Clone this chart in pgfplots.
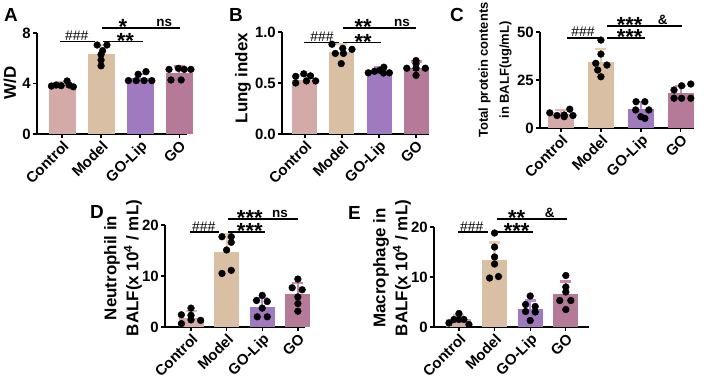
\documentclass[border=0pt]{standalone}
\usepackage{pgfplots}
\pgfplotsset{compat=1.18}
\usepackage{fontspec}
\setmainfont{Liberation Sans}
\definecolor{cC}{RGB}{212,170,168}
\definecolor{cM}{RGB}{217,192,165}
\definecolor{cL}{RGB}{160,122,190}
\definecolor{cG}{RGB}{180,122,152}
\definecolor{eC}{RGB}{226,178,178}
\definecolor{eM}{RGB}{232,204,178}
\definecolor{eL}{RGB}{184,140,214}
\definecolor{eG}{RGB}{204,136,170}
\pgfplotsset{
  panel/.style={
    scale only axis,
    axis x line*=bottom, axis y line*=left,
    axis line style={line width=1.3bp, black},
    tick style={line width=1.3bp, black},
    major tick length=4bp,
    tick align=outside,
    xtick={0,1,2,3},
    xticklabels={Control,Model,GO-Lip,GO},
    xticklabel style={rotate=45, anchor=north east, inner sep=1bp, font=\bfseries\fontsize{15}{15}\selectfont},
    yticklabel style={font=\bfseries\fontsize{15}{15}\selectfont, inner sep=2bp},
    /pgf/number format/assume math mode=true,
    ymin=0, clip=false, enlargelimits=false,
  }
}
\newcommand{\bars}[5]{%
  \addplot[ybar, bar shift=0pt, bar width=#1, fill=cC, draw=none, forget plot] coordinates {(0,#2)};
  \addplot[ybar, bar shift=0pt, bar width=#1, fill=cM, draw=none, forget plot] coordinates {(1,#3)};
  \addplot[ybar, bar shift=0pt, bar width=#1, fill=cL, draw=none, forget plot] coordinates {(2,#4)};
  \addplot[ybar, bar shift=0pt, bar width=#1, fill=cG, draw=none, forget plot] coordinates {(3,#5)};
}
\newcommand{\errb}[4]{%
  \addplot[draw=none, mark=none, forget plot, error bars/.cd, y dir=plus, y explicit,
    error bar style={draw=#1, line width=2.2bp},
    error mark options={draw=#1, line width=2.2bp, mark size=5.5bp, rotate=90}] coordinates {(#2,#3) +- (0,#4)};
}
\newcommand{\pts}[1]{\addplot[only marks, mark=*, mark size=3.4bp, black, forget plot] coordinates {#1};}
\newcommand{\brk}[3]{\draw[line width=1.3bp] (axis cs:#1,#3) -- (axis cs:#2,#3);}
\newcommand{\hashtxt}[2]{\node[anchor=base, inner sep=0, font=\fontsize{14}{14}\selectfont, yshift=1bp] at (axis cs:#1,#2) {\#\#\#};}
\newcommand{\asttxt}[3]{\node[anchor=base, inner sep=0, font=\bfseries\fontsize{22}{22}\selectfont, yshift=-6.8bp] at (axis cs:#1,#2) {#3};}
\newcommand{\nstxt}[3]{\node[anchor=base, inner sep=0, font=\bfseries\fontsize{13.5}{13.5}\selectfont, yshift=1.5bp] at (axis cs:#1,#2) {#3};}
\begin{document}
\begin{tikzpicture}
\path[use as bounding box] (0,0) rectangle (708bp,-382bp);
\clip (0,0) rectangle (708bp,-382bp);
% panel letters
\foreach \l/\x/\y in {A/4/21, B/229/21, C/450/21, D/90/218, E/348/219}
  \node[anchor=base west, inner sep=0, font=\bfseries\fontsize{19}{19}\selectfont] at (\x bp,-\y bp) {\l};
% y labels
\node[rotate=90, font=\bfseries\fontsize{17}{21}\selectfont] at (10bp,-83bp) {W/D};
\node[rotate=90, font=\bfseries\fontsize{17}{21}\selectfont] at (243bp,-78bp) {Lung index};
\node[rotate=90, align=center, font=\bfseries\fontsize{13}{21}\selectfont] at (495bp,-70bp) {Total protein contents\\in BALF(ug/mL)};
\node[rotate=90, align=center, font=\bfseries\fontsize{17}{22}\selectfont] at (123bp,-268bp) {Neutrophil in\\BALF(x 10\textsuperscript{4} / mL)};
\node[rotate=90, align=center, font=\bfseries\fontsize{17}{22}\selectfont] at (392bp,-268bp) {Macrophage in\\BALF(x 10\textsuperscript{4} / mL)};
% ---------- A ----------
\begin{axis}[panel, at={(37bp,-134bp)}, anchor=south west, width=150bp, height=101bp,
  xmin=-0.64, xmax=3.2, ymax=8, ytick={0,4,8}]
\bars{27bp}{3.9}{6.35}{4.4}{4.85}
\errb{eC}{0}{3.9}{0.2}
\errb{eM}{1}{6.35}{0.7}
\errb{eL}{2}{4.4}{0.35}
\errb{eG}{3}{4.85}{0.5}
\pts{(-0.27,3.8) (-0.15,3.88) (-0.02,3.83) (0.13,4.2) (0.18,3.88) (0.29,3.74)}
\pts{(0.9,7.05) (1.15,7.05) (1.04,6.6) (1,6.3) (1,5.86) (1,5.4)}
\pts{(1.95,4.73) (2.15,4.94) (1.7,4.23) (1.9,4.23) (2.1,4.23) (2.3,4.23)}
\pts{(2.74,5.12) (2.98,5.2) (3.13,5.12) (3.3,5.12) (2.79,4.28) (3.05,4.28)}
\brk{-0.05}{0.85}{7.3}
\hashtxt{0.38}{7.3}
\brk{1.05}{2.08}{7.3}
\asttxt{1.62}{7.3}{**}
\brk{1.03}{3.03}{8.4}
\asttxt{1.56}{8.4}{*}
\nstxt{2.62}{8.4}{ns}
\end{axis}
% ---------- B ----------
\begin{axis}[panel, at={(282bp,-134bp)}, anchor=south west, width=147bp, height=102bp,
  xmin=-0.62, xmax=3.35, ymax=1, ytick={0,0.5,1}, yticklabels={0.0,0.5,1.0}]
\bars{25bp}{0.53}{0.8}{0.62}{0.645}
\errb{eC}{0}{0.53}{0.045}
\errb{eM}{1}{0.8}{0.08}
\errb{eL}{2}{0.62}{0.04}
\errb{eG}{3}{0.645}{0.065}
\pts{(-0.25,0.565) (-0.03,0.59) (0.15,0.57) (-0.25,0.5) (0.04,0.52) (0.29,0.52)}
\pts{(0.73,0.88) (1.02,0.84) (1.27,0.83) (0.82,0.79) (1.04,0.79) (0.98,0.69)}
\pts{(1.71,0.6) (1.88,0.615) (2.02,0.625) (2.13,0.655) (2.28,0.6) (2.12,0.598)}
\pts{(2.75,0.645) (3,0.72) (3,0.69) (3.25,0.645) (3,0.575) (3,0.645)}
\brk{-0.03}{0.92}{0.9}
\hashtxt{0.46}{0.9}
\brk{1.03}{2.05}{0.9}
\asttxt{1.57}{0.9}{**}
\brk{1.03}{3.0}{1.04}
\asttxt{1.57}{1.04}{**}
\nstxt{2.62}{1.04}{ns}
\end{axis}
% ---------- C ----------
\begin{axis}[panel, at={(540bp,-128bp)}, anchor=south west, width=154bp, height=96bp,
  xmin=-0.525, xmax=3.33, ymax=50, ytick={0,25,50}]
\bars{26bp}{7.2}{34.4}{9.8}{18.1}
\errb{eC}{0}{7.2}{2.0}
\errb{eM}{1}{34.4}{6.6}
\errb{eL}{2}{9.8}{3.9}
\errb{eG}{3}{18.1}{3.8}
\pts{(-0.28,7.9) (-0.1,6.5) (0.08,6.8) (0.22,9.8) (0.3,6.5) (0.08,5.9)}
\pts{(1,45.8) (1,38.5) (0.87,33.7) (1.15,32.8) (0.92,30.2) (1,26.7)}
\pts{(1.88,13.7) (2.1,13.7) (1.87,9.4) (2.2,9.4) (2,5.9) (2.1,5.0)}
\pts{(3.02,22.0) (3.25,22.9) (2.83,19.8) (2.83,15.5) (3.02,15.5) (3.25,15.5)}
\brk{0.15}{0.98}{46.9}
\hashtxt{0.55}{46.9}
\brk{1.15}{2.1}{46.9}
\asttxt{1.72}{46.9}{***}
\brk{1.15}{3.02}{53.1}
\asttxt{1.72}{53.1}{***}
\nstxt{2.55}{53.1}{\&}
\end{axis}
% ---------- D ----------
\begin{axis}[panel, at={(165bp,-327bp)}, anchor=south west, width=140bp, height=102bp,
  xmin=-0.73, xmax=3.2, ymax=20, ytick={0,10,20}]
\bars{25bp}{1.85}{14.75}{3.95}{6.4}
\errb{eC}{0}{1.85}{1.25}
\errb{eM}{1}{14.75}{3.45}
\errb{eL}{2}{3.95}{1.75}
\errb{eG}{3}{6.4}{2.3}
\pts{(-0.27,2.4) (0,3.7) (0,2.3) (-0.27,0.66) (0,1.4) (0.27,1.3)}
\pts{(0.87,17.7) (1.13,17.7) (1.13,16.6) (1,15.1) (0.87,10.5) (1.13,11.1)}
\pts{(2,6.2) (1.84,5.2) (2.14,5.0) (2,3.7) (1.86,2.0) (2.14,2.0)}
\pts{(3,9.4) (2.84,7.7) (3.12,7.3) (3,5.9) (3,4.6) (3,3.1)}
\brk{-0.03}{0.78}{18.6}
\hashtxt{0.36}{18.6}
\brk{1.04}{2.07}{18.6}
\asttxt{1.65}{18.6}{***}
\brk{1.04}{3.0}{21.2}
\asttxt{1.65}{21.2}{***}
\nstxt{2.5}{21.2}{ns}
\end{axis}
% ---------- E ----------
\begin{axis}[panel, at={(434bp,-327bp)}, anchor=south west, width=155bp, height=100bp,
  xmin=-0.7, xmax=3.65, ymax=20, ytick={0,10,20}]
\bars{25bp}{1.6}{13.4}{3.6}{6.6}
\errb{eC}{0}{1.6}{0.7}
\errb{eM}{1}{13.4}{3.5}
\errb{eL}{2}{3.6}{1.7}
\errb{eG}{3}{6.6}{2.5}
\pts{(0,2.7) (-0.28,0.8) (-0.14,1.5) (0,1.5) (0.14,1.5) (0.28,0.5)}
\pts{(1,18.8) (1,16.0) (1,14.0) (1,12.6) (0.86,9.8) (1.11,10.1)}
\pts{(2,6.2) (1.87,4.5) (2.14,4.1) (1.87,3.1) (2.14,3.0) (2,1.3)}
\pts{(3,10.3) (3,8.0) (3,7.0) (2.83,5.3) (3.14,5.3) (3,3.5)}
\brk{-0.03}{0.81}{19}
\hashtxt{0.36}{19}
\brk{0.92}{2.07}{19}
\asttxt{1.62}{19}{***}
\brk{1.06}{3.02}{21.6}
\asttxt{1.62}{21.6}{**}
\nstxt{2.55}{21.6}{\&}
\end{axis}
\end{tikzpicture}
\end{document}
